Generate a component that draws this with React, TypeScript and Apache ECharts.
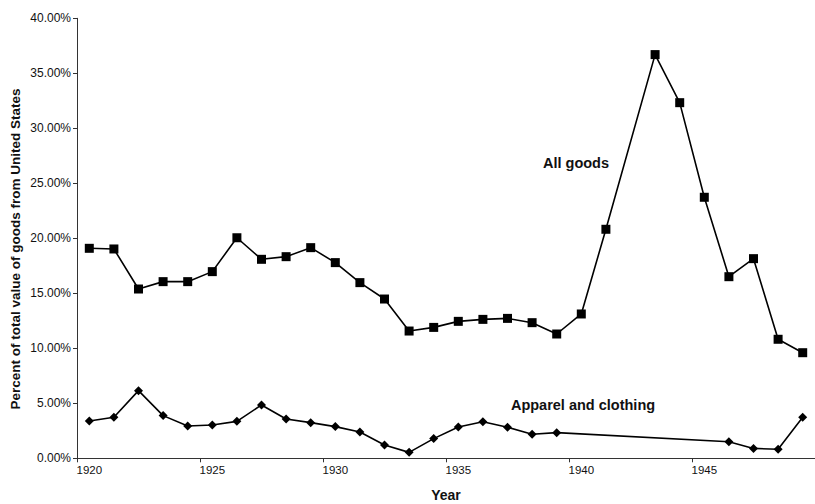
import React, { useEffect, useRef } from "react";
import * as echarts from "echarts";

const years = [
  "1920", "1921", "1922", "1923", "1924", "1925", "1926", "1927", "1928", "1929",
  "1930", "1931", "1932", "1933", "1934", "1935", "1936", "1937", "1938", "1939",
  "1940", "1941", "1942", "1943", "1944", "1945", "1946", "1947", "1948", "1949",
];

const allGoods: (number | null)[] = [
  19.09, 19.03, 15.39, 16.06, 16.06, 16.97, 20.05, 18.09, 18.33, 19.15,
  17.79, 15.97, 14.48, 11.57, 11.9, 12.45, 12.63, 12.72, 12.33, 11.3,
  13.12, 20.82, null, 36.7, 32.33, 23.73, 16.51, 18.15, 10.82, 9.6,
];

const apparel: (number | null)[] = [
  3.39, 3.73, 6.15, 3.88, 2.94, 3.03, 3.36, 4.85, 3.57, 3.24,
  2.88, 2.39, 1.21, 0.54, 1.79, 2.85, 3.33, 2.82, 2.18, 2.33,
  null, null, null, null, null, null, 1.51, 0.9, 0.82, 3.73,
];

const seriesLabels = ["All goods", "Apparel and clothing"];
const yTitle = "Percent of total value of goods from United States";
const xTitle = "Year";

export default function App() {
  const ref = useRef<HTMLDivElement>(null);
  useEffect(() => {
    document.body.style.margin = "0";
    if (!ref.current) return;
    const chart = echarts.init(ref.current, null, { renderer: "svg" });
    const font = "Liberation Sans, Arial, sans-serif";
    chart.setOption({
      animation: false,
      backgroundColor: "#ffffff",
      grid: { left: 77, right: 0, top: 18.3, bottom: 45.7, containLabel: false },
      xAxis: {
        type: "category",
        data: years,
        boundaryGap: true,
        axisLine: { show: true, lineStyle: { color: "#333", width: 1 } },
        axisTick: { show: true, interval: 4, length: 4, lineStyle: { color: "#333" } },
        axisLabel: {
          interval: 4,
          color: "#111",
          fontSize: 11.5,
          fontFamily: font,
          margin: 6,
        },
        splitLine: { show: false },
      },
      yAxis: {
        type: "value",
        min: 0,
        max: 40,
        interval: 5,
        axisLine: { show: true, lineStyle: { color: "#333", width: 1 } },
        axisTick: { show: true, length: 4, lineStyle: { color: "#333" } },
        axisLabel: {
          color: "#111",
          fontSize: 12,
          fontFamily: font,
          margin: 6,
          formatter: (v: number) => v.toFixed(2) + "%",
        },
        splitLine: { show: false },
      },
      series: [
        {
          name: seriesLabels[0],
          type: "line",
          data: allGoods,
          connectNulls: true,
          symbol: "rect",
          symbolSize: 9,
          lineStyle: { color: "#000", width: 1.6 },
          itemStyle: { color: "#000" },
        },
        {
          name: seriesLabels[1],
          type: "line",
          data: apparel,
          connectNulls: true,
          symbol: "diamond",
          symbolSize: 9,
          lineStyle: { color: "#000", width: 1.6 },
          itemStyle: { color: "#000" },
        },
      ],
      graphic: [
        {
          type: "text",
          x: 15,
          y: 249,
          rotation: Math.PI / 2,
          style: {
            text: yTitle,
            fontSize: 13.5,
            fontWeight: "bold",
            fontFamily: font,
            fill: "#111",
            textAlign: "center",
            textVerticalAlign: "middle",
          },
        },
        {
          type: "text",
          x: 446,
          y: 495,
          style: {
            text: xTitle,
            fontSize: 14,
            fontWeight: "bold",
            fontFamily: font,
            fill: "#111",
            textAlign: "center",
            textVerticalAlign: "middle",
          },
        },
        {
          type: "text",
          x: 576,
          y: 163,
          style: {
            text: seriesLabels[0],
            fontSize: 14.5,
            fontWeight: "bold",
            fontFamily: font,
            fill: "#111",
            textAlign: "center",
            textVerticalAlign: "middle",
          },
        },
        {
          type: "text",
          x: 583,
          y: 405,
          style: {
            text: seriesLabels[1],
            fontSize: 14.5,
            fontWeight: "bold",
            fontFamily: font,
            fill: "#111",
            textAlign: "center",
            textVerticalAlign: "middle",
          },
        },
      ],
    });
    return () => chart.dispose();
  }, []);
  return <div ref={ref} style={{ width: 815, height: 504 }} />;
}
